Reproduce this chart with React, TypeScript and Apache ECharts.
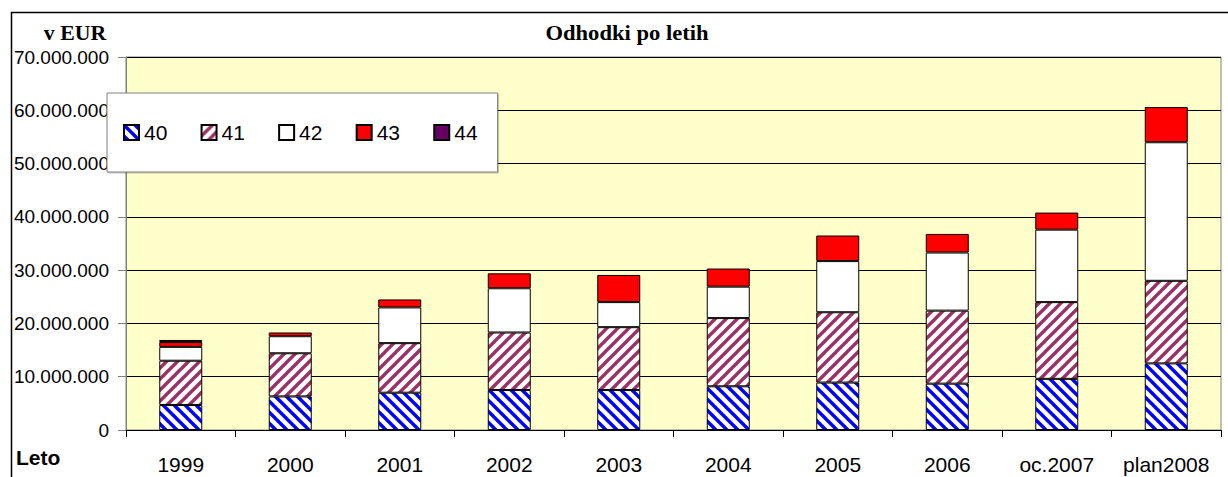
import React, { useEffect, useRef } from "react";
import * as echarts from "echarts";

const categories = ["1999", "2000", "2001", "2002", "2003", "2004", "2005", "2006", "oc.2007", "plan2008"];
const seriesNames = ["40", "41", "42", "43", "44"];
const s40 = [4700000, 6300000, 7000000, 7500000, 7500000, 8200000, 8900000, 8700000, 9600000, 12500000];
const s41 = [8300000, 8100000, 9300000, 10800000, 11800000, 12800000, 13200000, 13700000, 14400000, 15500000];
const s42 = [2600000, 3200000, 6700000, 8300000, 4700000, 5900000, 9600000, 10900000, 13600000, 26000000];
const s43 = [900000, 700000, 1500000, 2800000, 5100000, 3400000, 4800000, 3500000, 3200000, 6600000];
const s44: (number | string)[] = [400000, "-", "-", "-", "-", "-", "-", "-", "-", "-"];
const yTicks = { min: 0, max: 70000000, interval: 10000000 };

function makePattern(color: string, dir: "back" | "fwd") {
  const s = 11;
  const c = document.createElement("canvas");
  c.width = s;
  c.height = s;
  const ctx = c.getContext("2d")!;
  ctx.fillStyle = "#ffffff";
  ctx.fillRect(0, 0, s, s);
  ctx.strokeStyle = color;
  ctx.lineWidth = 3.4;
  for (const off of [-s, 0, s]) {
    ctx.beginPath();
    if (dir === "back") {
      ctx.moveTo(off - 2, -2);
      ctx.lineTo(off + s + 2, s + 2);
    } else {
      ctx.moveTo(off - 2, s + 2);
      ctx.lineTo(off + s + 2, -2);
    }
    ctx.stroke();
  }
  return { image: c, repeat: "repeat", imageWidth: s, imageHeight: s } as any;
}

function fmt(v: number) {
  return String(Math.round(v)).replace(/\B(?=(\d{3})+(?!\d))/g, ".");
}

export default function App() {
  const ref = useRef<HTMLDivElement>(null);
  useEffect(() => {
    if (!ref.current) return;
    const chart = echarts.init(ref.current, undefined, { renderer: "svg" });
    const blue = makePattern("#0000ff", "back");
    const purple = makePattern("#993366", "fwd");
    const fills = [blue, purple, "#ffffff", "#ff0000", "#660066"];
    const datas = [s40, s41, s42, s43, s44];
    const font = "'Liberation Sans', Arial, sans-serif";
    const serif = "'Liberation Serif', 'Times New Roman', serif";
    chart.setOption({
      animation: false,
      grid: {
        left: 126,
        right: 7,
        top: 57,
        bottom: 47,
        show: true,
        backgroundColor: "#FFFFCC",
        borderColor: "#808080",
        borderWidth: 1,
      },
      legend: {
        left: 107,
        top: 93,
        orient: "horizontal",
        itemWidth: 15,
        itemHeight: 15,
        itemGap: 33.2,
        padding: [29, 20, 29, 16],
        backgroundColor: "#ffffff",
        borderColor: "#808080",
        borderWidth: 1,
        shadowColor: "rgba(0,0,0,0.25)",
        shadowOffsetX: 1,
        shadowOffsetY: 1,
        shadowBlur: 1,
        icon: "rect",
        data: seriesNames,
        textStyle: { fontSize: 21, fontFamily: font, color: "#000", lineHeight: 21 },
        selectedMode: false,
        z: 10,
      },
      xAxis: {
        type: "category",
        data: categories,
        boundaryGap: true,
        axisLine: { lineStyle: { color: "#000", width: 1 } },
        axisTick: { show: true, length: 7, lineStyle: { color: "#000" } },
        axisLabel: { fontSize: 21, fontFamily: font, color: "#000", margin: 24, interval: 0 },
        splitLine: { show: false },
      },
      yAxis: {
        type: "value",
        min: yTicks.min,
        max: yTicks.max,
        interval: yTicks.interval,
        axisLine: { show: true, lineStyle: { color: "#808080", width: 1 } },
        axisTick: { show: true, length: 8, lineStyle: { color: "#808080" } },
        axisLabel: { fontSize: 19, fontFamily: font, color: "#000", margin: 17, formatter: (v: number) => fmt(v) },
        splitLine: { show: true, lineStyle: { color: "#000", width: 1 } },
      },
      series: seriesNames.map((name, i) => ({
        name,
        type: "bar",
        stack: "total",
        barWidth: 43,
        data: datas[i],
        itemStyle: { color: fills[i], borderColor: "#000", borderWidth: 1 },
      })),
      graphic: [
        {
          type: "rect",
          shape: { x: 11.5, y: 12.5, width: 1300, height: 520 },
          style: { fill: "none", stroke: "#000", lineWidth: 1.5 },
          silent: true,
          z: 20,
        },
        {
          type: "text",
          x: 627,
          y: 33,
          scaleX: 1.13,
          style: {
            text: "Odhodki po letih",
            fontFamily: serif,
            fontWeight: "bold",
            fontSize: 20,
            fill: "#000",
            align: "center",
            verticalAlign: "middle",
          },
        },
        {
          type: "text",
          x: 75,
          y: 33,
          scaleX: 1.09,
          style: {
            text: "v EUR",
            fontFamily: serif,
            fontWeight: "bold",
            fontSize: 20,
            fill: "#000",
            align: "center",
            verticalAlign: "middle",
          },
        },
        {
          type: "text",
          x: 16,
          y: 457,
          style: {
            text: "Leto",
            fontFamily: font,
            fontWeight: "bold",
            fontSize: 21,
            fill: "#000",
            align: "left",
            verticalAlign: "middle",
          },
        },
      ],
    });
    return () => chart.dispose();
  }, []);
  return (
    <div
      ref={ref}
      style={{ position: "fixed", left: 0, top: 0, width: 1228, height: 477, background: "#fff" }}
    />
  );
}
